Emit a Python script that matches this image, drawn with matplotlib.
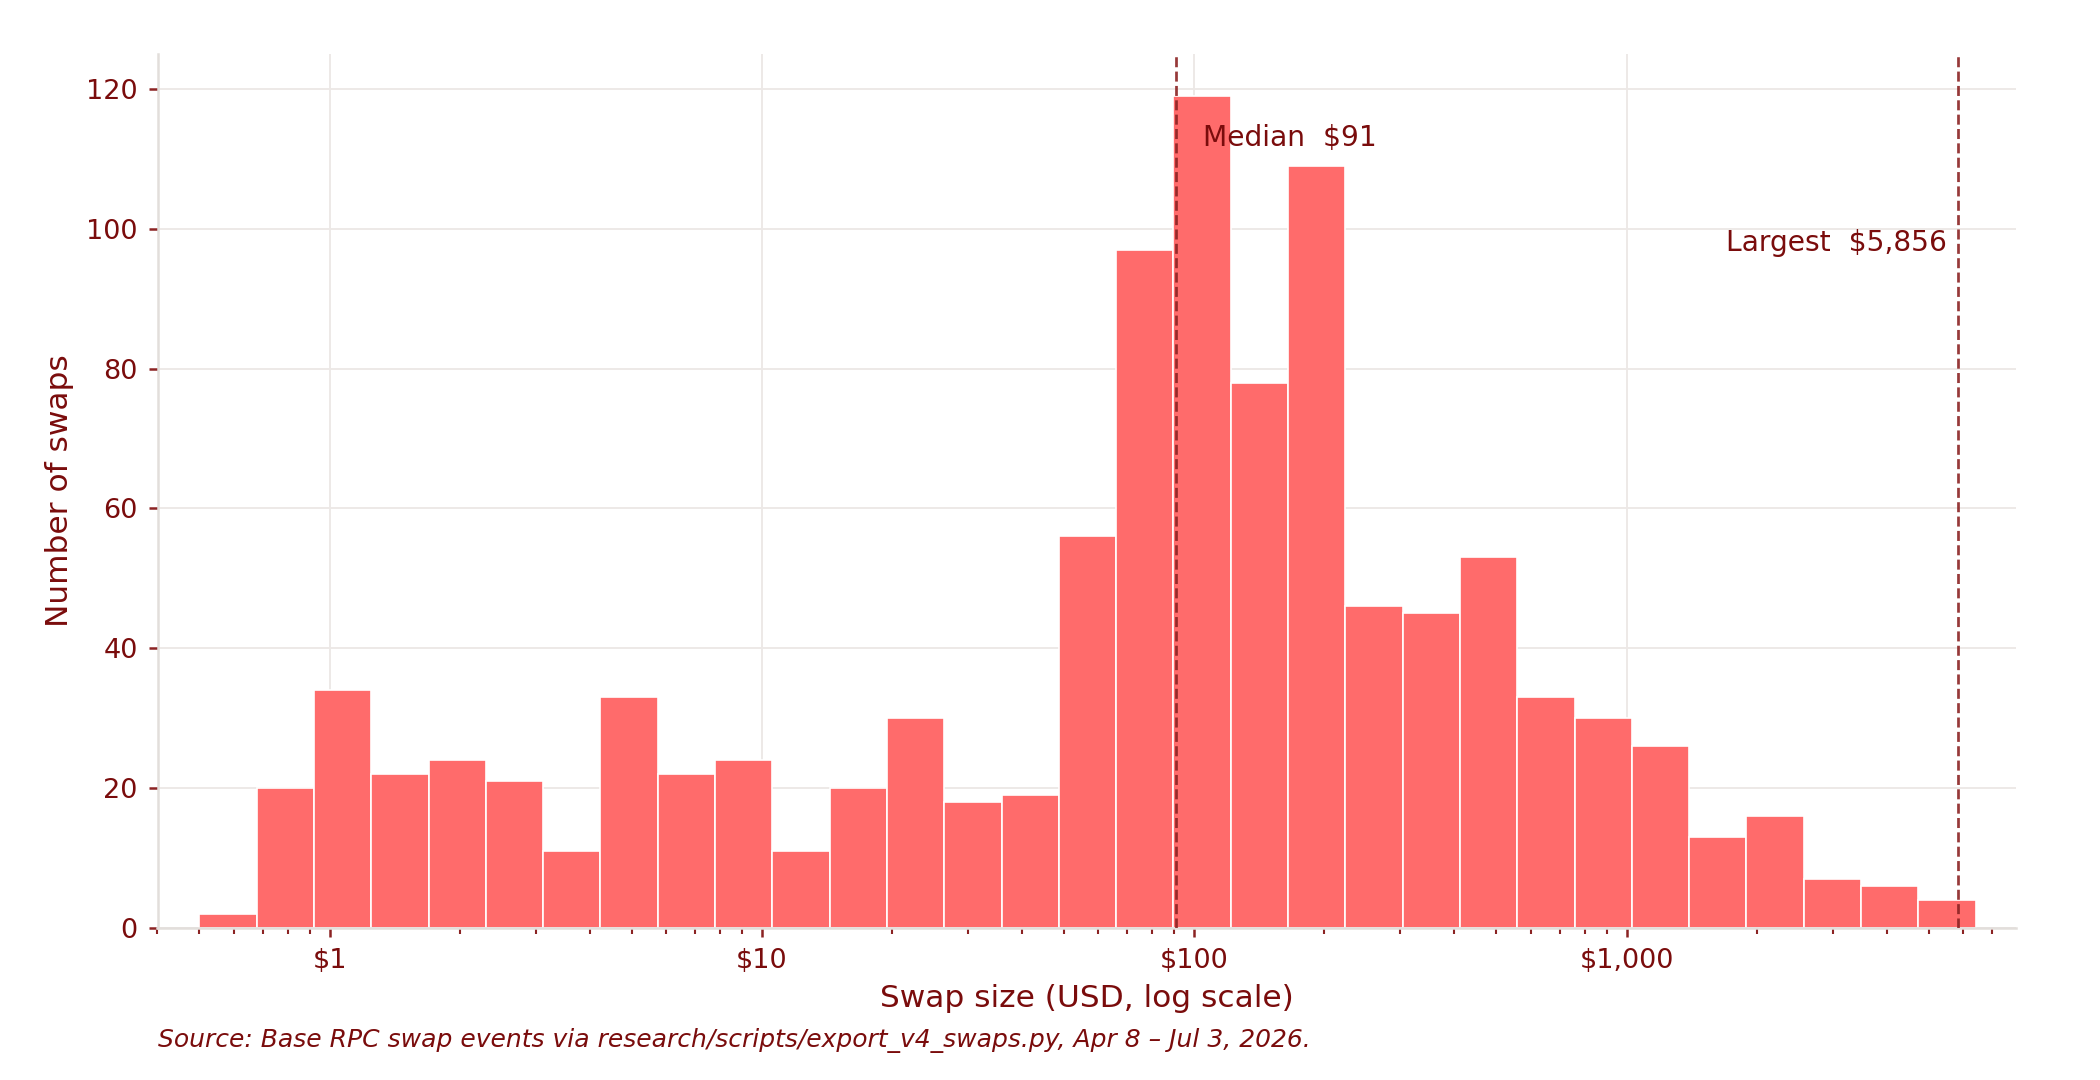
import numpy as np
import matplotlib
matplotlib.use("Agg")
import matplotlib.pyplot as plt
from matplotlib.ticker import FixedLocator, FuncFormatter, LogLocator, NullFormatter

# histogram of swap sizes (log bins), counts
bin_lo = 0.5
bin_hi = 6420
counts = [2, 20, 34, 22, 24, 21, 11, 33, 22, 24, 11, 20, 30, 18, 19,
          56, 97, 119, 78, 109, 46, 45, 53, 33, 30, 26, 13, 16, 7, 6, 4]
median_usd = 91
largest_usd = 5856
xticks = [1, 10, 100, 1000]

txt = "#7a0c0c"
bar_c = "#ff6b6b"
line_c = "#8b2323"
grid_c = "#ece8e6"

edges = np.logspace(np.log10(bin_lo), np.log10(bin_hi), len(counts) + 1)

plt.rc('font', size=13)
fig = plt.figure(figsize=(14, 7.2), dpi=150)
ax = fig.add_axes([0.075, 0.141, 0.885, 0.809])

ax.hist(edges[:-1], bins=edges, weights=counts, color=bar_c,
        edgecolor="white", linewidth=0.8, zorder=2)

ax.axvline(median_usd, color=line_c, ls="--", lw=1.3, alpha=0.9, zorder=3)
ax.axvline(largest_usd, color=line_c, ls="--", lw=1.3, alpha=0.9, zorder=3)
ax.text(median_usd * 1.15, 113, f"Median  ${median_usd:,}", color=txt,
        fontsize=13.5, va="center", ha="left", zorder=4)
ax.text(largest_usd * 0.94, 98, f"Largest  ${largest_usd:,}", color=txt,
        fontsize=13.5, va="center", ha="right", zorder=4)

ax.set_xscale("log")
ax.set_xlim(0.4, 7960)
ax.set_ylim(0, 125)
ax.xaxis.set_major_locator(FixedLocator(xticks))
ax.xaxis.set_major_formatter(FuncFormatter(lambda v, p: f"${v:,.0f}"))
ax.xaxis.set_minor_locator(LogLocator(base=10, subs=np.arange(2, 10)))
ax.xaxis.set_minor_formatter(NullFormatter())

ax.grid(True, which="major", color=grid_c, lw=0.9, zorder=0)
ax.set_axisbelow(True)
for s in ["top", "right"]:
    ax.spines[s].set_visible(False)
for s in ["left", "bottom"]:
    ax.spines[s].set_color("#e2dedb")
    ax.spines[s].set_linewidth(1.2)

ax.tick_params(axis="both", which="major", colors=line_c, labelcolor=txt,
               labelsize=13, length=4.5, width=1.2, pad=5)
ax.tick_params(axis="x", which="minor", colors=line_c, length=3, width=1)

ax.set_xlabel("Swap size (USD, log scale)", color=txt, fontsize=15, labelpad=5)
ax.set_ylabel("Number of swaps", color=txt, fontsize=15, labelpad=6)

fig.text(0.075, 0.031,
         "Source: Base RPC swap events via research/scripts/export_v4_swaps.py, Apr 8 \u2013 Jul 3, 2026.",
         color=txt, fontsize=12, style="italic", ha="left")

fig.savefig("out.png", dpi=150)
